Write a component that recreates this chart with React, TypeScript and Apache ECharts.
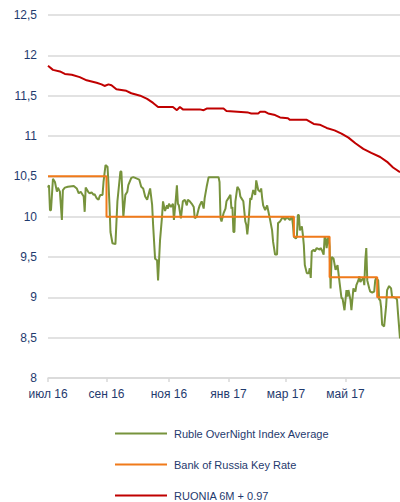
import React, { useEffect, useRef } from "react";
import * as echarts from "echarts";

// Ruble OverNight Index Average (RUONIA), %
const ruoniaAvg: [string, number][] = [
  ["2016-07-22",10.36],["2016-07-23",10.39],["2016-07-24",10.08],["2016-07-25",10.08],["2016-07-27",10.47],["2016-07-29",10.43],["2016-07-31",10.31],["2016-08-01",10.36],["2016-08-03",10.31],["2016-08-05",9.96],["2016-08-06",10.33],["2016-08-08",10.36],["2016-08-11",10.37],["2016-08-17",10.38],["2016-08-20",10.35],["2016-08-22",10.29],["2016-08-24",10.31],["2016-08-27",10.25],["2016-08-28",10.06],["2016-08-29",10.36],["2016-09-01",10.30],["2016-09-02",10.29],["2016-09-04",10.30],["2016-09-06",10.27],["2016-09-07",10.28],["2016-09-09",10.23],["2016-09-11",10.21],["2016-09-12",10.25],["2016-09-13",10.27],["2016-09-15",10.27],["2016-09-16",10.43],["2016-09-18",10.64],["2016-09-20",10.62],["2016-09-21",10.41],["2016-09-22",10.15],["2016-09-23",9.81],["2016-09-25",9.67],["2016-09-28",9.66],["2016-09-30",10.19],["2016-10-03",10.56],["2016-10-04",10.56],["2016-10-06",10.0],["2016-10-08",10.27],["2016-10-10",10.31],["2016-10-11",10.39],["2016-10-14",10.48],["2016-10-16",10.49],["2016-10-18",10.48],["2016-10-22",10.46],["2016-10-24",10.37],["2016-10-26",10.35],["2016-10-28",10.25],["2016-10-30",10.21],["2016-11-02",10.35],["2016-11-04",10.15],["2016-11-05",9.9],["2016-11-07",9.48],["2016-11-09",9.46],["2016-11-10",9.21],["2016-11-12",9.71],["2016-11-14",10.0],["2016-11-15",10.19],["2016-11-17",10.07],["2016-11-19",10.14],["2016-11-20",10.10],["2016-11-21",10.16],["2016-11-23",10.12],["2016-11-25",10.16],["2016-11-26",9.96],["2016-11-28",10.23],["2016-11-29",10.39],["2016-11-30",10.16],["2016-12-01",10.14],["2016-12-03",9.98],["2016-12-05",10.19],["2016-12-07",10.21],["2016-12-09",10.14],["2016-12-10",10.21],["2016-12-12",10.19],["2016-12-14",10.16],["2016-12-16",10.12],["2016-12-17",9.98],["2016-12-19",10.0],["2016-12-21",10.10],["2016-12-22",10.14],["2016-12-24",10.19],["2016-12-26",10.10],["2016-12-27",10.23],["2016-12-29",10.37],["2016-12-31",10.49],["2017-01-10",10.49],["2017-01-11",10.43],["2017-01-12",9.98],["2017-01-13",9.94],["2017-01-15",10.04],["2017-01-17",10.1],["2017-01-18",10.19],["2017-01-20",10.23],["2017-01-22",10.27],["2017-01-23",10.10],["2017-01-24",10.12],["2017-01-25",9.81],["2017-01-26",9.81],["2017-01-27",10.19],["2017-01-29",10.37],["2017-01-31",10.33],["2017-02-01",10.25],["2017-02-02",10.23],["2017-02-04",10.19],["2017-02-06",9.94],["2017-02-07",9.9],["2017-02-08",9.78],["2017-02-09",9.9],["2017-02-11",10.23],["2017-02-12",10.21],["2017-02-14",10.33],["2017-02-16",10.27],["2017-02-17",10.45],["2017-02-19",10.33],["2017-02-21",10.31],["2017-02-22",10.35],["2017-02-23",10.23],["2017-02-24",10.14],["2017-02-26",10.08],["2017-02-28",10.14],["2017-03-01",10.08],["2017-03-03",9.96],["2017-03-05",9.83],["2017-03-06",9.69],["2017-03-08",9.53],["2017-03-10",9.53],["2017-03-11",9.92],["2017-03-13",9.94],["2017-03-15",9.98],["2017-03-16",10.0],["2017-03-18",9.96],["2017-03-20",10.0],["2017-03-21",9.98],["2017-03-23",9.96],["2017-03-25",10.0],["2017-03-26",9.9],["2017-03-27",9.75],["2017-03-29",9.73],["2017-03-30",9.75],["2017-03-31",10.02],["2017-04-01",10.02],["2017-04-02",9.83],["2017-04-04",9.88],["2017-04-05",9.78],["2017-04-06",9.65],["2017-04-07",9.4],["2017-04-09",9.3],["2017-04-11",9.3],["2017-04-12",9.36],["2017-04-13",9.24],["2017-04-14",9.57],["2017-04-16",9.59],["2017-04-17",9.57],["2017-04-19",9.61],["2017-04-22",9.59],["2017-04-23",9.61],["2017-04-24",9.59],["2017-04-26",9.53],["2017-04-27",9.75],["2017-04-28",9.73],["2017-04-29",9.61],["2017-04-30",9.71],["2017-05-01",9.75],["2017-05-02",9.63],["2017-05-03",9.11],["2017-05-04",9.5],["2017-05-06",9.48],["2017-05-08",9.34],["2017-05-10",9.4],["2017-05-12",9.19],["2017-05-14",8.99],["2017-05-15",8.99],["2017-05-17",8.84],["2017-05-19",9.09],["2017-05-20",9.01],["2017-05-21",9.09],["2017-05-23",8.97],["2017-05-24",8.84],["2017-05-26",9.11],["2017-05-28",9.07],["2017-05-29",9.15],["2017-05-31",9.21],["2017-06-01",9.26],["2017-06-02",9.19],["2017-06-03",9.21],["2017-06-05",9.24],["2017-06-06",9.15],["2017-06-07",9.46],["2017-06-08",9.61],["2017-06-09",9.21],["2017-06-11",9.11],["2017-06-12",9.07],["2017-06-14",9.06],["2017-06-16",9.07],["2017-06-17",9.21],["2017-06-18",9.24],["2017-06-20",9.21],["2017-06-21",8.97],["2017-06-22",8.97],["2017-06-23",8.87],["2017-06-24",8.66],["2017-06-26",8.64],["2017-06-28",8.89],["2017-06-29",9.09],["2017-07-01",9.14],["2017-07-03",9.11],["2017-07-04",9.01],["2017-07-06",9.0],["2017-07-08",8.99],["2017-07-09",8.97],["2017-07-10",8.8],["2017-07-12",8.49]
];

// Bank of Russia key rate, % (step changes)
const keyRate: [string, number][] = [
  ["2016-07-22",10.5],["2016-09-19",10.0],["2017-03-27",9.75],["2017-05-02",9.25],["2017-06-19",9.0],["2017-07-12",9.0]
];

// RUONIA 6M + 0.97, %
const ruonia6m: [string, number][] = [
  ["2016-07-22",11.87],["2016-07-27",11.82],["2016-08-03",11.80],["2016-08-08",11.77],["2016-08-15",11.76],["2016-08-23",11.73],["2016-08-30",11.69],["2016-09-09",11.66],["2016-09-14",11.64],["2016-09-17",11.62],["2016-09-21",11.64],["2016-09-24",11.63],["2016-09-29",11.58],["2016-10-09",11.56],["2016-10-14",11.53],["2016-10-23",11.50],["2016-10-30",11.46],["2016-11-05",11.41],["2016-11-10",11.36],["2016-11-25",11.36],["2016-11-29",11.32],["2016-12-02",11.36],["2016-12-05",11.33],["2016-12-22",11.33],["2016-12-26",11.32],["2016-12-29",11.34],["2017-01-15",11.34],["2017-01-18",11.31],["2017-02-09",11.29],["2017-02-12",11.28],["2017-02-19",11.28],["2017-02-21",11.30],["2017-02-26",11.30],["2017-03-01",11.28],["2017-03-08",11.26],["2017-03-13",11.23],["2017-03-21",11.22],["2017-03-23",11.20],["2017-04-09",11.20],["2017-04-16",11.15],["2017-04-22",11.14],["2017-04-29",11.10],["2017-05-07",11.07],["2017-05-14",11.03],["2017-05-21",10.98],["2017-05-28",10.91],["2017-06-05",10.84],["2017-06-13",10.79],["2017-06-22",10.74],["2017-06-29",10.68],["2017-07-05",10.61],["2017-07-12",10.55]
];

const seriesNames = ["Ruble OverNight Index Average", "Bank of Russia Key Rate", "RUONIA 6M + 0.97"];
const tickDates = ["2016-07-22", "2016-09-19", "2016-11-21", "2017-01-20", "2017-03-19", "2017-05-18"];
const tickLabels = ["июл 16", "сен 16", "ноя 16", "янв 17", "мар 17", "май 17"];
const xRange = ["2016-07-22", "2017-07-12"];
const yMin = 8, yMax = 12.5, yStep = 0.5;

const toTime = (s: string) => {
  const [y, m, d] = s.split("-").map(Number);
  return Date.UTC(y, m - 1, d);
};
const toData = (arr: [string, number][]) => arr.map(([d, v]) => [toTime(d), v]);

const TEXT = "#1F3A6E";
const GRID = "#D9D9D9";

export default function App() {
  const ref = useRef<HTMLDivElement>(null);
  useEffect(() => {
    if (!ref.current) return;
    const chart = echarts.init(ref.current, null, { renderer: "svg" });
    const tickTimes = tickDates.map(toTime);
    chart.setOption({
      animation: false,
      textStyle: { fontFamily: "'Liberation Sans', Arial, sans-serif" },
      grid: { left: 48, right: 0, top: 15, bottom: 124, containLabel: false },
      legend: {
        orient: "vertical",
        left: 115,
        top: 427,
        padding: 0,
        itemGap: 18,
        itemWidth: 52,
        itemHeight: 2,
        icon: "rect",
        data: seriesNames,
        textStyle: { fontSize: 11, color: TEXT, lineHeight: 13, padding: [0, 0, 0, 2] },
      },
      xAxis: {
        type: "value",
        min: toTime(xRange[0]),
        max: toTime(xRange[1]),
        splitLine: { show: false },
        axisLine: { show: true, lineStyle: { color: GRID, width: 1.5 } },
        axisTick: { show: true, length: 4, lineStyle: { color: GRID, width: 1.5 }, customValues: tickTimes },
        axisLabel: {
          customValues: tickTimes,
          fontSize: 12,
          color: TEXT,
          margin: 10,
          formatter: (v: number) => {
            let best = 0;
            tickTimes.forEach((t, i) => { if (Math.abs(t - v) < Math.abs(tickTimes[best] - v)) best = i; });
            return tickLabels[best];
          },
        },
      },
      yAxis: {
        type: "value",
        min: yMin,
        max: yMax,
        interval: yStep,
        axisLine: { show: false },
        axisTick: { show: false },
        splitLine: { lineStyle: { color: GRID, width: 1.5 } },
        axisLabel: {
          fontSize: 12,
          color: TEXT,
          margin: 11,
          formatter: (v: number) => String(v).replace(".", ","),
        },
      },
      series: [
        {
          name: seriesNames[0],
          type: "line",
          data: toData(ruoniaAvg),
          showSymbol: false,
          symbol: "none",
          lineStyle: { color: "#77933C", width: 2 },
          itemStyle: { color: "#77933C" },
        },
        {
          name: seriesNames[1],
          type: "line",
          step: "end",
          data: toData(keyRate),
          showSymbol: false,
          symbol: "none",
          lineStyle: { color: "#F07A1A", width: 2 },
          itemStyle: { color: "#F07A1A" },
        },
        {
          name: seriesNames[2],
          type: "line",
          data: toData(ruonia6m),
          showSymbol: false,
          symbol: "none",
          lineStyle: { color: "#C00000", width: 2 },
          itemStyle: { color: "#C00000" },
        },
      ],
    });
    return () => chart.dispose();
  }, []);
  return <div ref={ref} style={{ width: 400, height: 502, position: "absolute", left: 0, top: 0 }} />;
}
